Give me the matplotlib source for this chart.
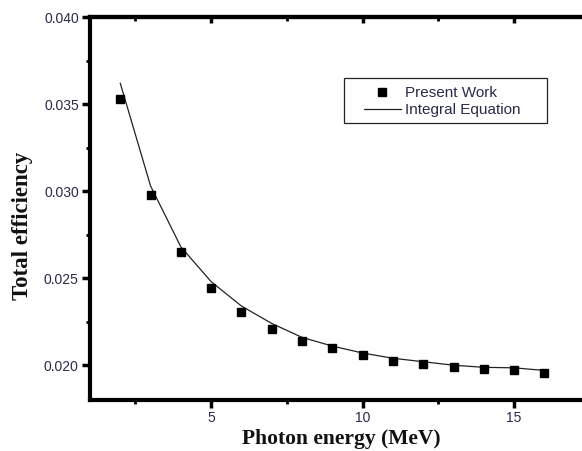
import matplotlib
matplotlib.use("Agg")
import matplotlib.pyplot as plt
from matplotlib.ticker import MultipleLocator, FormatStrFormatter
from matplotlib.patches import Rectangle

# Photon energy (MeV) and total efficiency
energy = [2, 3, 4, 5, 6, 7, 8, 9, 10, 11, 12, 13, 14, 15, 16]
present_work = [0.0353, 0.0298, 0.0265, 0.02443, 0.02305, 0.02207, 0.02138, 0.02098,
                0.02057, 0.02023, 0.02006, 0.01989, 0.01977, 0.01971, 0.01954]
integral_eq = [0.0362, 0.0303, 0.0268, 0.0248, 0.0234, 0.0224, 0.0216, 0.0211,
               0.0207, 0.0204, 0.0202, 0.0200, 0.01988, 0.01985, 0.0197]

fig = plt.figure(figsize=(5.82, 4.51), dpi=100)
ax = fig.add_axes([0.1546, 0.113, 0.885, 0.849])

line, = ax.plot(energy, integral_eq, color="#222222", lw=0.9, zorder=2)
pts, = ax.plot(energy, present_work, ls="none", marker="s", ms=5.5, color="black", zorder=3)

ax.set_xlim(1, 18)
ax.set_ylim(0.018, 0.040)
ax.xaxis.set_major_locator(MultipleLocator(5))
ax.xaxis.set_minor_locator(MultipleLocator(2.5))
ax.yaxis.set_major_locator(MultipleLocator(0.005))
ax.yaxis.set_minor_locator(MultipleLocator(0.0025))
ax.yaxis.set_major_formatter(FormatStrFormatter("%.3f"))

for s in ax.spines.values():
    s.set_linewidth(3.0)

ax.tick_params(which="major", direction="out", length=5.5, width=2.5, pad=2.5,
               labelcolor="#2a2a4a", labelsize=10)
ax.tick_params(which="minor", direction="out", length=3, width=2.0)
for lab in ax.get_xticklabels() + ax.get_yticklabels():
    lab.set_fontfamily("Liberation Sans")

top = ax.secondary_xaxis("top")
top.xaxis.set_major_locator(MultipleLocator(5))
top.xaxis.set_minor_locator(MultipleLocator(2.5))
top.tick_params(which="major", direction="in", length=4, width=2.5, labeltop=False)
top.tick_params(which="minor", direction="in", length=3, width=2.0)
top.spines["top"].set_linewidth(3.0)

ax.set_xlabel("Photon energy (MeV)", fontfamily="Liberation Serif", fontweight="bold",
              fontsize=15.5, color="#111111")
ax.set_ylabel("Total efficiency", fontfamily="Liberation Serif", fontweight="bold",
              fontsize=16.5, color="#111111")
ax.xaxis.set_label_coords(0.487, -0.075)
ax.yaxis.set_label_coords(-0.111, 0.454)

# legend frame drawn as a plain box, entries placed inside it
ax.add_patch(Rectangle((0.493, 0.723), 0.394, 0.118, transform=ax.transAxes,
                       fill=False, edgecolor="#222222", lw=0.9, zorder=4))
leg = ax.legend([pts, line], ["Present Work", "Integral Equation"], loc="upper left",
                bbox_to_anchor=(0.532, 0.819), frameon=False,
                prop={"family": "Liberation Sans", "size": 11},
                handlelength=2.42, handletextpad=0.26, borderpad=0,
                labelspacing=0.2, borderaxespad=0)
for t in leg.get_texts():
    t.set_color("#2a2a4a")

fig.savefig("out.png", dpi=100)
